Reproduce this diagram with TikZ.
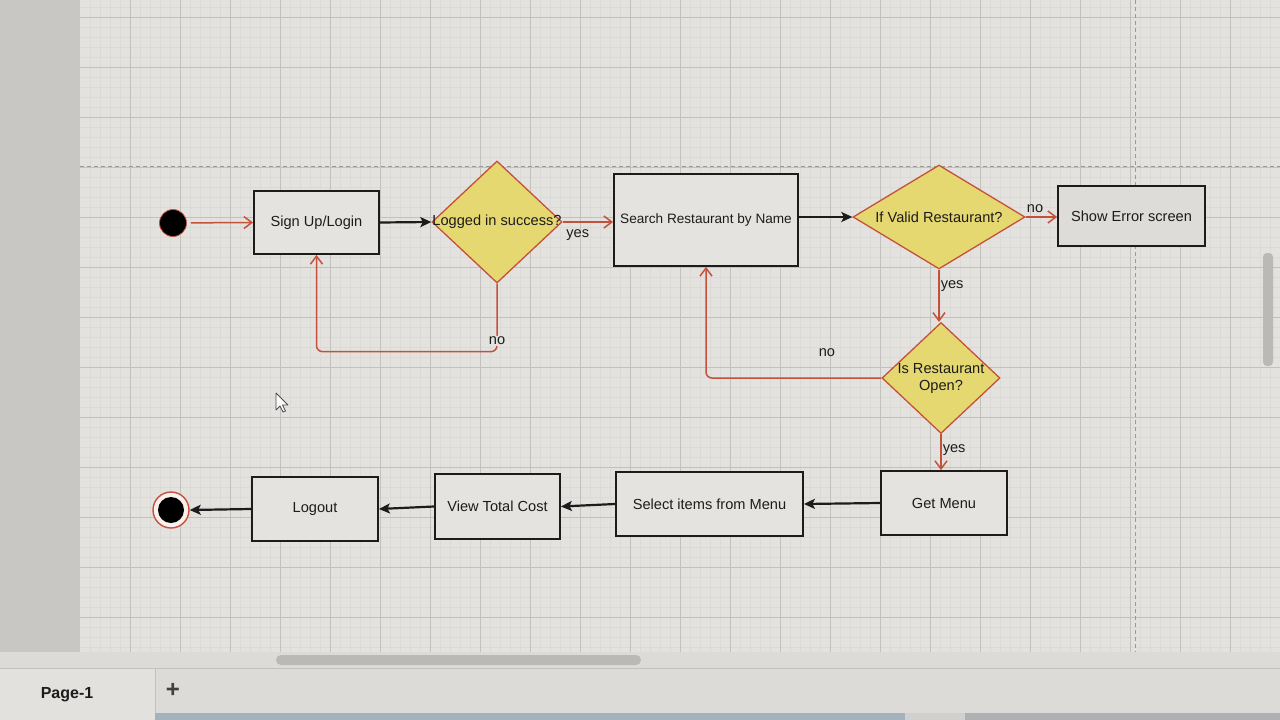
\documentclass[tikz,border=0pt]{standalone}
\usepackage{fontspec}
\setmainfont{Liberation Sans}
\usetikzlibrary{arrows.meta,shapes.geometric,calc}

\definecolor{canvas}{HTML}{E3E2DF}
\definecolor{panel}{HTML}{C8C7C3}
\definecolor{minorgrid}{HTML}{DBDAD7}
\definecolor{majorgrid}{HTML}{C2C1BE}
\definecolor{pagebreak}{HTML}{9A9996}
\definecolor{boxfill}{HTML}{E4E3E0}
\definecolor{errfill}{HTML}{DDDCD9}
\definecolor{decfill}{HTML}{E6D870}
\definecolor{flowred}{HTML}{C4513B}
\definecolor{inkline}{HTML}{1C1C1C}
\definecolor{barfill}{HTML}{DCDBD8}
\definecolor{tabfill}{HTML}{E2E1DE}
\definecolor{scrollfill}{HTML}{BAB9B6}
\definecolor{stripblue}{HTML}{A3B2BC}
\definecolor{stripgrey}{HTML}{AEB1B3}
\definecolor{stripgap}{HTML}{D0D0CF}

\tikzset{
  txt/.style={font=\fontsize{14.6}{17}\selectfont, text=inkline},
  stepbox/.style={draw=inkline, line width=1.8pt, fill=boxfill, inner sep=2pt, txt},
  decision/.style={diamond, draw=flowred, line width=1.3pt, fill=decfill, inner sep=0pt},
  declabel/.style={txt, inner sep=0pt, align=center},
  edgelabel/.style={txt, inner sep=2pt},
  redflow/.style={draw=flowred, line width=1.5pt, rounded corners=6pt,
    -{Straight Barb[length=8pt,width=12pt]}},
  blackflow/.style={draw=inkline, line width=2.2pt,
    -{Stealth[length=11pt,width=10pt,inset=2.5pt]}},
}

\begin{document}
\begin{tikzpicture}[x=1pt,y=-1pt]
\useasboundingbox (0,0) rectangle (1280,720);

% editor background: side panel and gridded canvas
\fill[panel] (0,0) rectangle (80,652);
\fill[canvas] (80,0) rectangle (1280,652);
\foreach \x in {90,100,...,1270}
  \draw[minorgrid, line width=0.3pt] (\x,0) -- (\x,652);
\foreach \y in {7,17,...,647}
  \draw[minorgrid, line width=0.3pt] (80,\y) -- (1280,\y);
\foreach \x in {130,180,...,1230}
  \draw[majorgrid, line width=0.6pt] (\x,0) -- (\x,652);
\foreach \y in {17,67,...,617}
  \draw[majorgrid, line width=0.6pt] (80,\y) -- (1280,\y);
\draw[pagebreak, line width=0.9pt, dash pattern=on 4pt off 3pt] (80,166) -- (1280,166);
\draw[pagebreak, line width=0.9pt, dash pattern=on 4pt off 3pt] (1135,0) -- (1135,652);
\fill[scrollfill, rounded corners=4pt] (1263,253) rectangle (1273,366);

% horizontal scrollbar and page tabs
\fill[barfill] (0,652) rectangle (1280,668);
\fill[scrollfill, rounded corners=5pt] (276,655) rectangle (641,665);
\fill[barfill] (0,668) rectangle (1280,713);
\fill[tabfill] (0,668) rectangle (155,713);
\draw[majorgrid, line width=0.8pt] (0,668) -- (1280,668);
\draw[majorgrid, line width=0.8pt] (155,668) -- (155,713);
\node[font=\bfseries\fontsize{16}{18}\selectfont, text=inkline] (pagetab) at (67,695) {Page-1};
\node[font=\bfseries\fontsize{24}{24}\selectfont, text=black!75] (addpage) at (173,690) {+};
\fill[tabfill] (0,713) rectangle (155,720);
\fill[stripblue] (155,713) rectangle (905,720);
\fill[stripgap] (905,713) rectangle (965,720);
\fill[stripgrey] (965,713) rectangle (1280,720);

% mouse pointer
\draw[black!70, fill=white!95!gray, line width=0.8pt, line join=round]
  (276,393) -- (276,410) -- (280,406) -- (283,412) -- (285.5,411) -- (282.5,405) -- (288,405) -- cycle;

% start and end states
\node[circle, fill=black, draw=flowred, line width=0.8pt, minimum size=27pt, inner sep=0pt] (start) at (173,223) {};
\node[circle, fill=white!92!flowred, draw=flowred, line width=1.4pt, minimum size=36pt, inner sep=0pt] (finish) at (171,510) {};
\node[circle, fill=black, minimum size=26pt, inner sep=0pt] (finishdot) at (171,510) {};

% activities
\node[stepbox, minimum width=125pt, minimum height=63pt] (login) at (316.5,222.5) {Sign Up/Login};
\node[stepbox, font=\fontsize{13.6}{16}\selectfont, minimum width=184pt, minimum height=92pt] (search) at (706,220) {Search Restaurant by Name};
\node[stepbox, fill=errfill, minimum width=147pt, minimum height=60pt] (error) at (1131.5,216) {Show Error screen};
\node[stepbox, minimum width=126pt, minimum height=64pt] (getmenu) at (944,503) {Get Menu};
\node[stepbox, minimum width=187pt, minimum height=64pt] (select) at (709.5,504) {Select items from Menu};
\node[stepbox, minimum width=125pt, minimum height=65pt] (viewcost) at (497.5,506.5) {View Total Cost};
\node[stepbox, minimum width=126pt, minimum height=64pt] (logout) at (315,509) {Logout};

% decisions
\node[decision, minimum width=130pt, minimum height=122pt,
  label={[declabel]center:Logged in success?}] (logged) at (497,222) {};
\node[decision, minimum width=172pt, minimum height=104pt,
  label={[declabel]center:If Valid Restaurant?}] (valid) at (939,217) {};
\node[decision, minimum width=118pt, minimum height=111pt,
  label={[declabel]center:{Is Restaurant\\Open?}}] (open) at (941,378) {};

% flow
\draw[redflow, shorten <=4pt] (start) -- (login.west);
\draw[blackflow] (login.east) -- (logged.west);
\draw[redflow] (logged.east) -- node[edgelabel, below=5pt, pos=0.3] {yes} (logged.east -| search.west);
\draw[redflow] (logged.south) -- node[edgelabel, pos=0.84, fill=canvas, inner sep=1pt] {no} ++(0,68) -| (login.south);
\draw[blackflow] (search.east |- valid.west) -- (valid.west);
\draw[redflow] (valid.east) -- node[edgelabel, above=2pt, pos=0.3] {no} (valid.east -| error.west);
\draw[redflow] (valid.south) -- node[edgelabel, right=-1pt, pos=0.32] {yes} (valid.south |- open.north);
\draw[redflow] (open.west) -- node[edgelabel, above=19pt, pos=0.31] {no} (open.west -| search.south) -- (search.south);
\draw[redflow] (open.south) -- node[edgelabel, right=-1pt, pos=0.45] {yes} (open.south |- getmenu.north);
\draw[blackflow] (getmenu.west) -- (select.east);
\draw[blackflow] (select.west) -- (viewcost.east);
\draw[blackflow] (viewcost.west) -- (logout.east);
\draw[blackflow] (logout.west) -- (finish.east);
\end{tikzpicture}
\end{document}
